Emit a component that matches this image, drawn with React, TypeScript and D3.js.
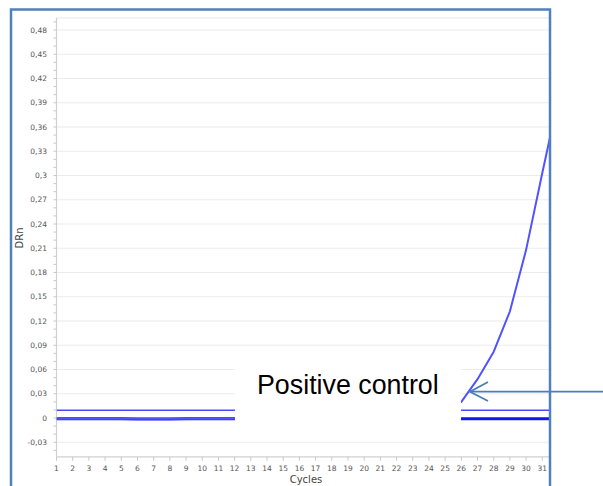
import React from "react";
import * as d3 from "d3";

const cycles = [1, 2, 3, 4, 5, 6, 7, 8, 9, 10, 11, 12, 13, 14, 15, 16, 17, 18, 19, 20, 21, 22, 23, 24, 25, 26, 27, 28, 29, 30, 31, 32];
const positiveControl = [
  -0.001, -0.001, -0.001, -0.001, -0.001, -0.001, -0.001, -0.001, -0.001, -0.001, -0.001,
  -0.001, -0.001, -0.001, -0.001, -0.001, -0.001, -0.001, -0.001, -0.001, -0.001, 0.0,
  0.001, 0.004, 0.01, 0.02, 0.048, 0.082, 0.132, 0.208, 0.303, 0.396,
];
const negativeControl = [
  -0.001, -0.001, -0.001, -0.001, -0.001, -0.0012, -0.0012, -0.0012, -0.001, -0.001, -0.001,
  -0.001, -0.001, -0.001, -0.001, -0.001, -0.001, -0.001, -0.001, -0.001, -0.001, -0.001,
  -0.001, -0.001, -0.001, -0.001, -0.001, -0.001, -0.001, -0.001, -0.001, -0.001,
];
const threshold = 0.0095;
const yTicks = [-0.03, 0, 0.03, 0.06, 0.09, 0.12, 0.15, 0.18, 0.21, 0.24, 0.27, 0.3, 0.33, 0.36, 0.39, 0.42, 0.45, 0.48];
const xTickLabels = ["1", "2", "3", "4", "5", "6", "7", "8", "9", "10", "11", "12", "13", "14", "15", "16", "17", "18", "19", "20", "21", "22", "23", "24", "25", "26", "27", "28", "29", "30", "31"];
const yMin = -0.048;
const yMax = 0.495;

const fmt = (v: number) => {
  if (Math.abs(v) < 1e-9) return "0";
  let s = (Math.round(v * 100) / 100).toString();
  return s.replace(".", ",");
};

export default function App() {
  const x = d3.scaleLinear().domain([1, 31]).range([56.5, 542.3]);
  const y = d3.scaleLinear().domain([0, 0.48]).range([418, 30]);
  const left = x(1);
  const right = 549;
  const top = y(yMax);
  const bottom = y(yMin);

  const line = d3
    .line<number>()
    .x((_, i) => x(cycles[i]))
    .y((d) => y(d));

  const minorTicks = d3.range(Math.ceil(yMin * 100), Math.floor(yMax * 100) + 1).map((k) => k / 100);

  const tickFont = "'DejaVu Sans', Verdana, sans-serif";

  return (
    <svg width={603} height={486} style={{ position: "absolute", left: 0, top: 0, background: "#fff" }}>
      <defs>
        <clipPath id="plot">
          <rect x={left} y={top} width={right - left} height={bottom - top} />
        </clipPath>
      </defs>
      <rect x={0} y={0} width={603} height={486} fill="#fff" />
      {/* gridlines */}
      {yTicks.map((t) => (
        <line key={t} x1={left} x2={right} y1={y(t)} y2={y(t)} stroke="#ececec" strokeWidth={1.2} />
      ))}
      <line x1={left} x2={right} y1={top} y2={top} stroke="#ececec" strokeWidth={1.2} />
      {/* axes */}
      <line x1={left} x2={left} y1={top} y2={bottom} stroke="#d0d0d0" strokeWidth={1.2} />
      <line x1={left} x2={right} y1={bottom} y2={bottom} stroke="#d0d0d0" strokeWidth={1.2} />
      {minorTicks.map((t) => (
        <line key={"m" + t} x1={left - 3} x2={left} y1={y(t)} y2={y(t)} stroke="#c8c8c8" strokeWidth={1} />
      ))}
      {yTicks.map((t) => (
        <text key={"l" + t} x={47} y={y(t) + 2.7} textAnchor="end" fontSize={7.5} fill="#555" fontFamily={tickFont}>
          {fmt(t)}
        </text>
      ))}
      {xTickLabels.map((lab, i) => (
        <g key={"x" + lab}>
          <line x1={x(cycles[i])} x2={x(cycles[i])} y1={bottom} y2={bottom + 4} stroke="#c8c8c8" strokeWidth={1} />
          <text x={x(cycles[i])} y={bottom + 14} textAnchor="middle" fontSize={7.5} fill="#555" fontFamily={tickFont}>
            {lab}
          </text>
        </g>
      ))}
      <text
        transform={`translate(23, ${238}) rotate(-90)`}
        textAnchor="middle"
        fontSize={10}
        fill="#444"
        fontFamily={tickFont}
      >
        DRn
      </text>
      <text x={306} y={483} textAnchor="middle" fontSize={10} fill="#444" fontFamily={tickFont}>
        Cycles
      </text>
      {/* data */}
      <g clipPath="url(#plot)">
        <line x1={left} x2={right} y1={y(threshold)} y2={y(threshold)} stroke="#4a4aff" strokeWidth={1.6} />
        <path d={line(negativeControl) || ""} fill="none" stroke="#1414f0" strokeWidth={3} />
        <path d={line(positiveControl) || ""} fill="none" stroke="#5252ff" strokeWidth={2} strokeLinejoin="round" />
      </g>
      {/* annotation */}
      <rect x={235} y={350} width={226} height={80} fill="#fff" />
      <text x={257} y={394} fontSize={26.8} fill="#000" fontFamily="'Liberation Sans', Arial, sans-serif">
        Positive control
      </text>
      <g stroke="#4a7ebb" strokeWidth={1.8} fill="none">
        <line x1={603} x2={470} y1={391.7} y2={391.7} />
        <polyline points="488,382 470,391.7 488,401" />
      </g>
      {/* frame */}
      <rect x={11} y={9.5} width={539} height={500} fill="none" stroke="#4f81bd" strokeWidth={2.5} />
    </svg>
  );
}
